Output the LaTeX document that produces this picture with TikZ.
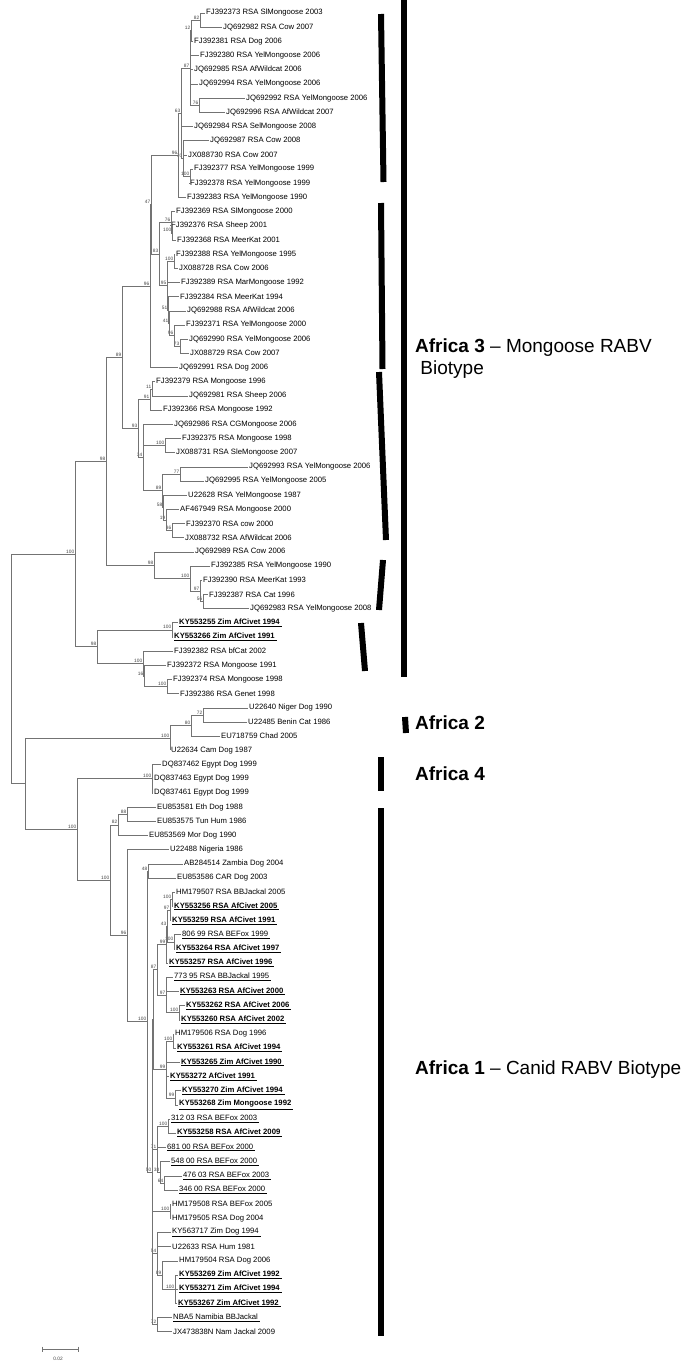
\documentclass[tikz,border=0pt]{standalone}
\usepackage{fontspec}
\setmainfont{Liberation Sans}
\usetikzlibrary{calc}

% internal node: x position, first and last child, bootstrap value
\newcommand\clade[5]{%
  \path let \p1=($(#3)!.5!(#4)$) in coordinate (#1) at (#2pt,\y1);
  \node[boot] (#1-bs) at (#1) {#5};}
\newcommand\uln[1]{\underline{#1\hspace{2pt}}}

\begin{document}
\begin{tikzpicture}[x=1pt,y=-1pt,
    branch/.style={draw=black!55,line width=0.6pt},
    taxon/.style={anchor=west,inner sep=1pt,font=\fontsize{7.7}{8}\selectfont},
    civet/.style={taxon,font=\fontsize{7.7}{8}\selectfont\bfseries},
    boot/.style={anchor=south east,inner sep=0.6pt,font=\fontsize{4.8}{5}\selectfont,text=black!75},
    bar/.style={line width=6pt},
    group/.style={anchor=west,inner sep=0pt,font=\fontsize{19}{22}\selectfont}
]
\useasboundingbox (0,0) rectangle (687,1371);

% Africa 3
\node[taxon] (L1)  at (205,13.0)  {FJ392373 RSA SlMongoose 2003};
\node[taxon] (L2)  at (222,27.2)  {JQ692982 RSA Cow 2007};
\node[taxon] (L3)  at (193,41.4)  {FJ392381 RSA Dog 2006};
\node[taxon] (L4)  at (199,55.5)  {FJ392380 RSA YelMongoose 2006};
\node[taxon] (L5)  at (193,69.7)  {JQ692985 RSA AfWildcat 2006};
\node[taxon] (L6)  at (198,83.9)  {JQ692994 RSA YelMongoose 2006};
\node[taxon] (L7)  at (245,98.1)  {JQ692992 RSA YelMongoose 2006};
\node[taxon] (L8)  at (225,112.3) {JQ692996 RSA AfWildcat 2007};
\node[taxon] (L9)  at (193,126.4) {JQ692984 RSA SelMongoose 2008};
\node[taxon] (L10) at (209,140.6) {JQ692987 RSA Cow 2008};
\node[taxon] (L11) at (187,154.8) {JX088730 RSA Cow 2007};
\node[taxon] (L12) at (193,169.0) {FJ392377 RSA YelMongoose 1999};
\node[taxon] (L13) at (189,183.2) {FJ392378 RSA YelMongoose 1999};
\node[taxon] (L14) at (186,197.3) {FJ392383 RSA YelMongoose 1990};
\node[taxon] (L15) at (175,211.5) {FJ392369 RSA SlMongoose 2000};
\node[taxon] (L16) at (170,225.7) {FJ392376 RSA Sheep 2001};
\node[taxon] (L17) at (176,239.9) {FJ392368 RSA MeerKat 2001};
\node[taxon] (L18) at (175,254.1) {FJ392388 RSA YelMongoose 1995};
\node[taxon] (L19) at (178,268.2) {JX088728 RSA Cow 2006};
\node[taxon] (L20) at (180,282.4) {FJ392389 RSA MarMongoose 1992};
\node[taxon] (L21) at (179,296.6) {FJ392384 RSA MeerKat 1994};
\node[taxon] (L22) at (186,310.8) {JQ692988 RSA AfWildcat 2006};
\node[taxon] (L23) at (185,325.0) {FJ392371 RSA YelMongoose 2000};
\node[taxon] (L24) at (188,339.1) {JQ692990 RSA YelMongoose 2006};
\node[taxon] (L25) at (189,353.3) {JX088729 RSA Cow 2007};
\node[taxon] (L26) at (178,367.5) {JQ692991 RSA Dog 2006};
\node[taxon] (L27) at (155,381.7) {FJ392379 RSA Mongoose 1996};
\node[taxon] (L28) at (188,395.9) {JQ692981 RSA Sheep 2006};
\node[taxon] (L29) at (162,410.0) {FJ392366 RSA Mongoose 1992};
\node[taxon] (L30) at (173,424.2) {JQ692986 RSA CGMongoose 2006};
\node[taxon] (L31) at (181,438.4) {FJ392375 RSA Mongoose 1998};
\node[taxon] (L32) at (175,452.6) {JX088731 RSA SleMongoose 2007};
\node[taxon] (L33) at (248,466.8) {JQ692993 RSA YelMongoose 2006};
\node[taxon] (L34) at (204,480.9) {JQ692995 RSA YelMongoose 2005};
\node[taxon] (L35) at (187,495.1) {U22628 RSA YelMongoose 1987};
\node[taxon] (L36) at (179,509.3) {AF467949 RSA Mongoose 2000};
\node[taxon] (L37) at (185,523.5) {FJ392370 RSA cow 2000};
\node[taxon] (L38) at (184,537.7) {JX088732 RSA AfWildcat 2006};
\node[taxon] (L39) at (194,551.8) {JQ692989 RSA Cow 2006};
\node[taxon] (L40) at (210,566.0) {FJ392385 RSA YelMongoose 1990};
\node[taxon] (L41) at (202,580.2) {FJ392390 RSA MeerKat 1993};
\node[taxon] (L42) at (208,594.4) {FJ392387 RSA Cat 1996};
\node[taxon] (L43) at (249,608.6) {JQ692983 RSA YelMongoose 2008};
\node[civet] (L44) at (178,622.7) {\uln{KY553255 Zim AfCivet 1994}};
\node[civet] (L45) at (173,636.9) {\uln{KY553266 Zim AfCivet 1991}};
\node[taxon] (L46) at (173,651.1) {FJ392382 RSA bfCat 2002};
\node[taxon] (L47) at (166,665.3) {FJ392372 RSA Mongoose 1991};
\node[taxon] (L48) at (172,679.5) {FJ392374 RSA Mongoose 1998};
\node[taxon] (L49) at (179,693.6) {FJ392386 RSA Genet 1998};
% Africa 2
\node[taxon] (L50) at (248,707.8) {U22640 Niger Dog 1990};
\node[taxon] (L51) at (247,722.0) {U22485 Benin Cat 1986};
\node[taxon] (L52) at (220,736.2) {EU718759 Chad 2005};
\node[taxon] (L53) at (170,750.4) {U22634 Cam Dog 1987};
% Africa 4
\node[taxon] (L54) at (161,764.5) {DQ837462 Egypt Dog 1999};
\node[taxon] (L55) at (153,778.7) {DQ837463 Egypt Dog 1999};
\node[taxon] (L56) at (153,792.9) {DQ837461 Egypt Dog 1999};
% Africa 1
\node[taxon] (L57) at (156,807.1) {EU853581 Eth Dog 1988};
\node[taxon] (L58) at (156,821.3) {EU853575 Tun Hum 1986};
\node[taxon] (L59) at (148,835.4) {EU853569 Mor Dog 1990};
\node[taxon] (L60) at (169,849.6) {U22488 Nigeria 1986};
\node[taxon] (L61) at (183,863.8) {AB284514 Zambia Dog 2004};
\node[taxon] (L62) at (176,878.0) {EU853586 CAR Dog 2003};
\node[taxon] (L63) at (175,892.2) {HM179507 RSA BBJackal 2005};
\node[civet] (L64) at (173,906.3) {\uln{KY553256 RSA AfCivet 2005}};
\node[civet] (L65) at (171,920.5) {\uln{KY553259 RSA AfCivet 1991}};
\node[taxon] (L66) at (181,934.7) {\uln{806 99 RSA BEFox 1999}};
\node[civet] (L67) at (175,948.9) {\uln{KY553264 RSA AfCivet 1997}};
\node[civet] (L68) at (168,963.1) {\uln{KY553257 RSA AfCivet 1996}};
\node[taxon] (L69) at (173,977.2) {\uln{773 95 RSA BBJackal 1995}};
\node[civet] (L70) at (179,991.4) {\uln{KY553263 RSA AfCivet 2000}};
\node[civet] (L71) at (185,1005.6) {\uln{KY553262 RSA AfCivet 2006}};
\node[civet] (L72) at (180,1019.8) {\uln{KY553260 RSA AfCivet 2002}};
\node[taxon] (L73) at (174,1034.0) {HM179506 RSA Dog 1996};
\node[civet] (L74) at (176,1048.1) {\uln{KY553261 RSA AfCivet 1994}};
\node[civet] (L75) at (180,1062.3) {\uln{KY553265 Zim AfCivet 1990}};
\node[civet] (L76) at (169,1076.5) {\uln{KY553272 AfCivet 1991}};
\node[civet] (L77) at (181,1090.7) {\uln{KY553270 Zim AfCivet 1994}};
\node[civet] (L78) at (178,1104.9) {\uln{KY553268 Zim Mongoose 1992}};
\node[taxon] (L79) at (170,1119.0) {\uln{312 03 RSA BEFox 2003}};
\node[civet] (L80) at (176,1133.2) {\uln{KY553258 RSA AfCivet 2009}};
\node[taxon] (L81) at (166,1147.4) {\uln{681 00 RSA BEFox 2000}};
\node[taxon] (L82) at (170,1161.6) {\uln{548 00 RSA BEFox 2000}};
\node[taxon] (L83) at (182,1175.8) {\uln{476 03 RSA BEFox 2003}};
\node[taxon] (L84) at (178,1189.9) {\uln{346 00 RSA BEFox 2000}};
\node[taxon] (L85) at (171,1204.1) {HM179508 RSA BEFox 2005};
\node[taxon] (L86) at (171,1218.3) {HM179505 RSA Dog 2004};
\node[taxon] (L87) at (171,1232.5) {\uln{KY563717 Zim Dog 1994}};
\node[taxon] (L88) at (171,1246.7) {U22633 RSA Hum 1981};
\node[taxon] (L89) at (178,1260.8) {HM179504 RSA Dog 2006};
\node[civet] (L90) at (178,1275.0) {\uln{KY553269 Zim AfCivet 1992}};
\node[civet] (L91) at (178,1289.2) {\uln{KY553271 Zim AfCivet 1994}};
\node[civet] (L92) at (177,1303.4) {\uln{KY553267 Zim AfCivet 1992}};
\node[taxon] (L93) at (172,1317.6) {\uln{NBA5 Namibia BBJackal}};
\node[taxon] (L94) at (172,1331.7) {JX473838N Nam Jackal 2009};

% internal nodes
\clade{n82}{200}{L1.west}{L2.west}{82}
\clade{n12}{191}{n82}{L3.west}{12}
\clade{n76a}{199}{L7.west}{L8.west}{76}
\clade{n87a}{190}{n12}{n76a}{87}
\clade{n100d}{190}{L12.west}{L13.west}{100}
\clade{n70}{183}{L10.west}{n100d}{70}
\clade{n63}{181}{n87a}{n70}{63}
\clade{n96a}{178}{n63}{L14.west}{96}
\clade{n100b}{172}{L16.west}{L17.west}{100}
\clade{n76b}{171}{L15.west}{n100b}{76}
\clade{n100c}{174}{L18.west}{L19.west}{100}
\clade{n73}{180}{L24.west}{L25.west}{73}
\clade{n96b}{174}{L23.west}{n73}{96}
\clade{n41}{169}{L22.west}{n96b}{41}
\clade{n51}{168}{L21.west}{n41}{51}
\clade{n95}{167}{n100c}{n51}{95}
\clade{n83}{159}{n76b}{n95}{83}
\clade{n47}{151}{n96a}{n83}{47}
\clade{n96c}{150}{n47}{L26.west}{96}
\clade{n11}{152}{L27.west}{L28.west}{11}
\clade{n91}{150}{n11}{L29.west}{91}
\clade{n100e}{165}{L31.west}{L32.west}{100}
\clade{n77}{180}{L33.west}{L34.west}{77}
\clade{n36}{172}{L37.west}{L38.west}{36}
\clade{n19}{166}{L36.west}{n36}{19}
\clade{n58}{163}{L35.west}{n19}{58}
\clade{n89b}{162}{n77}{n58}{89}
\clade{n34}{143}{L30.west}{n89b}{34}
\clade{n93}{138}{n91}{n34}{93}
\clade{n89a}{122}{n96c}{n93}{89}
\clade{n56}{203}{L42.west}{L43.west}{56}
\clade{n97a}{200}{L41.west}{n56}{97}
\clade{n100f}{190}{L40.west}{n97a}{100}
\clade{n98b}{154}{L39.west}{n100f}{98}
\clade{n98a}{106}{n89a}{n98b}{98}
\clade{n100h}{172}{L44.west}{L45.west}{100}
\clade{n100i}{167}{L48.west}{L49.west}{100}
\clade{n16}{144}{L47.west}{n100i}{16}
\clade{n100j}{143}{L46.west}{n16}{100}
\clade{n98c}{97}{n100h}{n100j}{98}
\clade{n100g}{75}{n98a}{n98c}{100}
\clade{n72a}{203}{L50.west}{L51.west}{72}
\clade{n80}{191}{n72a}{L52.west}{80}
\clade{n100k}{170}{n80}{L53.west}{100}
\clade{n100l}{152}{L54.west}{L56.west}{100}
\clade{n88}{127}{L57.west}{L58.west}{88}
\clade{n82b}{118}{n88}{L59.west}{82}
\clade{n48}{148}{L61.west}{L62.west}{48}
\clade{n100p}{172}{L63.west}{L64.west}{100}
\clade{n97b}{170}{n100p}{L65.west}{97}
\clade{n100q}{174}{L66.west}{L67.west}{100}
\clade{n43}{167}{n97b}{n100q}{43}
\clade{n99a}{166}{n43}{L68.west}{99}
\clade{n100r}{179}{L71.west}{L72.west}{100}
\clade{n97c}{166}{L69.west}{n100r}{97}
\clade{n87b}{157}{n99a}{n97c}{87}
\clade{n100s}{173}{L73.west}{L74.west}{100}
\clade{n99c}{175}{L77.west}{L78.west}{99}
\clade{n99b}{166}{n100s}{n99c}{99}
\clade{nB}{153}{n87b}{n99b}{}
\clade{n100t}{168}{L79.west}{L80.west}{100}
\clade{n64}{164}{L83.west}{L84.west}{64}
\clade{n38}{160}{L82.west}{n64}{38}
\clade{n71}{157}{n100t}{n38}{71}
\clade{n100u}{170}{L85.west}{L86.west}{100}
\clade{n100v}{175}{L90.west}{L92.west}{100}
\clade{n89c}{162}{L89.west}{n100v}{89}
\clade{n54}{157}{L87.west}{n89c}{54}
\clade{n72b}{157}{L93.west}{L94.west}{72}
\clade{n50}{152}{nB}{n72b}{50}
\clade{n100o}{147}{n48}{n50}{100}
\clade{n96d}{127}{L60.west}{n100o}{96}
\clade{n100n}{110}{n82b}{n96d}{100}
\clade{n100m}{77}{n100l}{n100n}{100}
\clade{n25}{25}{n100k}{n100m}{}
\clade{root}{11}{n100g}{n25}{}

% branches
\draw[branch] (n82) |- (L1.west) (n82) |- (L2.west);
\draw[branch] (n12) |- (n82) (n12) |- (L3.west);
\draw[branch] (n76a) |- (L7.west) (n76a) |- (L8.west);
\draw[branch] (n87a) |- (n12) (n87a) |- (L4.west) (n87a) |- (L5.west) (n87a) |- (L6.west) (n87a) |- (n76a);
\draw[branch] (n100d) |- (L12.west) (n100d) |- (L13.west);
\draw[branch] (n70) |- (L10.west) (n70) |- (L11.west) (n70) |- (n100d);
\draw[branch] (n63) |- (n87a) (n63) |- (L9.west) (n63) |- (n70);
\draw[branch] (n96a) |- (n63) (n96a) |- (L14.west);
\draw[branch] (n100b) |- (L16.west) (n100b) |- (L17.west);
\draw[branch] (n76b) |- (L15.west) (n76b) |- (n100b);
\draw[branch] (n100c) |- (L18.west) (n100c) |- (L19.west);
\draw[branch] (n73) |- (L24.west) (n73) |- (L25.west);
\draw[branch] (n96b) |- (L23.west) (n96b) |- (n73);
\draw[branch] (n41) |- (L22.west) (n41) |- (n96b);
\draw[branch] (n51) |- (L21.west) (n51) |- (n41);
\draw[branch] (n95) |- (n100c) (n95) |- (L20.west) (n95) |- (n51);
\draw[branch] (n83) |- (n76b) (n83) |- (n95);
\draw[branch] (n47) |- (n96a) (n47) |- (n83);
\draw[branch] (n96c) |- (n47) (n96c) |- (L26.west);
\draw[branch] (n11) |- (L27.west) (n11) |- (L28.west);
\draw[branch] (n91) |- (n11) (n91) |- (L29.west);
\draw[branch] (n100e) |- (L31.west) (n100e) |- (L32.west);
\draw[branch] (n77) |- (L33.west) (n77) |- (L34.west);
\draw[branch] (n36) |- (L37.west) (n36) |- (L38.west);
\draw[branch] (n19) |- (L36.west) (n19) |- (n36);
\draw[branch] (n58) |- (L35.west) (n58) |- (n19);
\draw[branch] (n89b) |- (n77) (n89b) |- (n58);
\draw[branch] (n34) |- (L30.west) (n34) |- (n100e) (n34) |- (n89b);
\draw[branch] (n93) |- (n91) (n93) |- (n34);
\draw[branch] (n89a) |- (n96c) (n89a) |- (n93);
\draw[branch] (n56) |- (L42.west) (n56) |- (L43.west);
\draw[branch] (n97a) |- (L41.west) (n97a) |- (n56);
\draw[branch] (n100f) |- (L40.west) (n100f) |- (n97a);
\draw[branch] (n98b) |- (L39.west) (n98b) |- (n100f);
\draw[branch] (n98a) |- (n89a) (n98a) |- (n98b);
\draw[branch] (n100h) |- (L44.west) (n100h) |- (L45.west);
\draw[branch] (n100i) |- (L48.west) (n100i) |- (L49.west);
\draw[branch] (n16) |- (L47.west) (n16) |- (n100i);
\draw[branch] (n100j) |- (L46.west) (n100j) |- (n16);
\draw[branch] (n98c) |- (n100h) (n98c) |- (n100j);
\draw[branch] (n100g) |- (n98a) (n100g) |- (n98c);
\draw[branch] (n72a) |- (L50.west) (n72a) |- (L51.west);
\draw[branch] (n80) |- (n72a) (n80) |- (L52.west);
\draw[branch] (n100k) |- (n80) (n100k) |- (L53.west);
\draw[branch] (n100l) |- (L54.west) (n100l) |- (L55.west) (n100l) |- (L56.west);
\draw[branch] (n88) |- (L57.west) (n88) |- (L58.west);
\draw[branch] (n82b) |- (n88) (n82b) |- (L59.west);
\draw[branch] (n48) |- (L61.west) (n48) |- (L62.west);
\draw[branch] (n100p) |- (L63.west) (n100p) |- (L64.west);
\draw[branch] (n97b) |- (n100p) (n97b) |- (L65.west);
\draw[branch] (n100q) |- (L66.west) (n100q) |- (L67.west);
\draw[branch] (n43) |- (n97b) (n43) |- (n100q);
\draw[branch] (n99a) |- (n43) (n99a) |- (L68.west);
\draw[branch] (n100r) |- (L71.west) (n100r) |- (L72.west);
\draw[branch] (n97c) |- (L69.west) (n97c) |- (L70.west) (n97c) |- (n100r);
\draw[branch] (n87b) |- (n99a) (n87b) |- (n97c);
\draw[branch] (n100s) |- (L73.west) (n100s) |- (L74.west);
\draw[branch] (n99c) |- (L77.west) (n99c) |- (L78.west);
\draw[branch] (n99b) |- (n100s) (n99b) |- (L75.west) (n99b) |- (L76.west) (n99b) |- (n99c);
\draw[branch] (nB) |- (n87b) (nB) |- (n99b);
\draw[branch] (n100t) |- (L79.west) (n100t) |- (L80.west);
\draw[branch] (n64) |- (L83.west) (n64) |- (L84.west);
\draw[branch] (n38) |- (L82.west) (n38) |- (n64);
\draw[branch] (n71) |- (n100t) (n71) |- (L81.west) (n71) |- (n38);
\draw[branch] (n100u) |- (L85.west) (n100u) |- (L86.west);
\draw[branch] (n100v) |- (L90.west) (n100v) |- (L91.west) (n100v) |- (L92.west);
\draw[branch] (n89c) |- (L89.west) (n89c) |- (n100v);
\draw[branch] (n54) |- (L87.west) (n54) |- (L88.west) (n54) |- (n89c);
\draw[branch] (n72b) |- (L93.west) (n72b) |- (L94.west);
\draw[branch] (n50) |- (nB) (n50) |- (n71) (n50) |- (n100u) (n50) |- (n54) (n50) |- (n72b);
\draw[branch] (n100o) |- (n48) (n100o) |- (n50);
\draw[branch] (n96d) |- (L60.west) (n96d) |- (n100o);
\draw[branch] (n100n) |- (n82b) (n100n) |- (n96d);
\draw[branch] (n100m) |- (n100l) (n100m) |- (n100n);
\draw[branch] (n25) |- (n100k) (n25) |- (n100m);
\draw[branch] (root) |- (n100g) (root) |- (n25);

% scale bar
\coordinate (sbL) at (42,1349);
\coordinate (sbR) at (78,1349);
\draw[branch] (sbL) -- (sbR);
\draw[branch] (sbL) ++(0,-2.5) -- ++(0,5);
\draw[branch] (sbR) ++(0,-2.5) -- ++(0,5);
\node[font=\fontsize{4.8}{5}\selectfont,text=black!75] (sbtext) at (58,1359) {0.02};

% lineage bars
\draw[bar] (403.5,0) -- (403.5,677);
\draw[bar] (381,14) -- (383.5,182);
\draw[bar] (381,203) -- (382.5,369);
\draw[bar] (379,372) -- (386,540);
\draw[bar] (383,560) -- (379,610);
\draw[bar] (361,623) -- (365,671);
\draw[bar] (405,717) -- (406,733);
\draw[bar] (381,757) -- (381,791);
\draw[bar] (381,808) -- (381,1336);

% lineage names
\node[group] (af3)  at (415,348)  {\textbf{Africa 3} -- Mongoose RABV};
\node[group] (af3b) at (415,370)  {\ Biotype};
\node[group] (af2)  at (415,723)  {\textbf{Africa 2}};
\node[group] (af4)  at (415,774)  {\textbf{Africa 4}};
\node[group] (af1)  at (415,1070) {\textbf{Africa 1} -- Canid RABV Biotype};
\end{tikzpicture}
\end{document}
